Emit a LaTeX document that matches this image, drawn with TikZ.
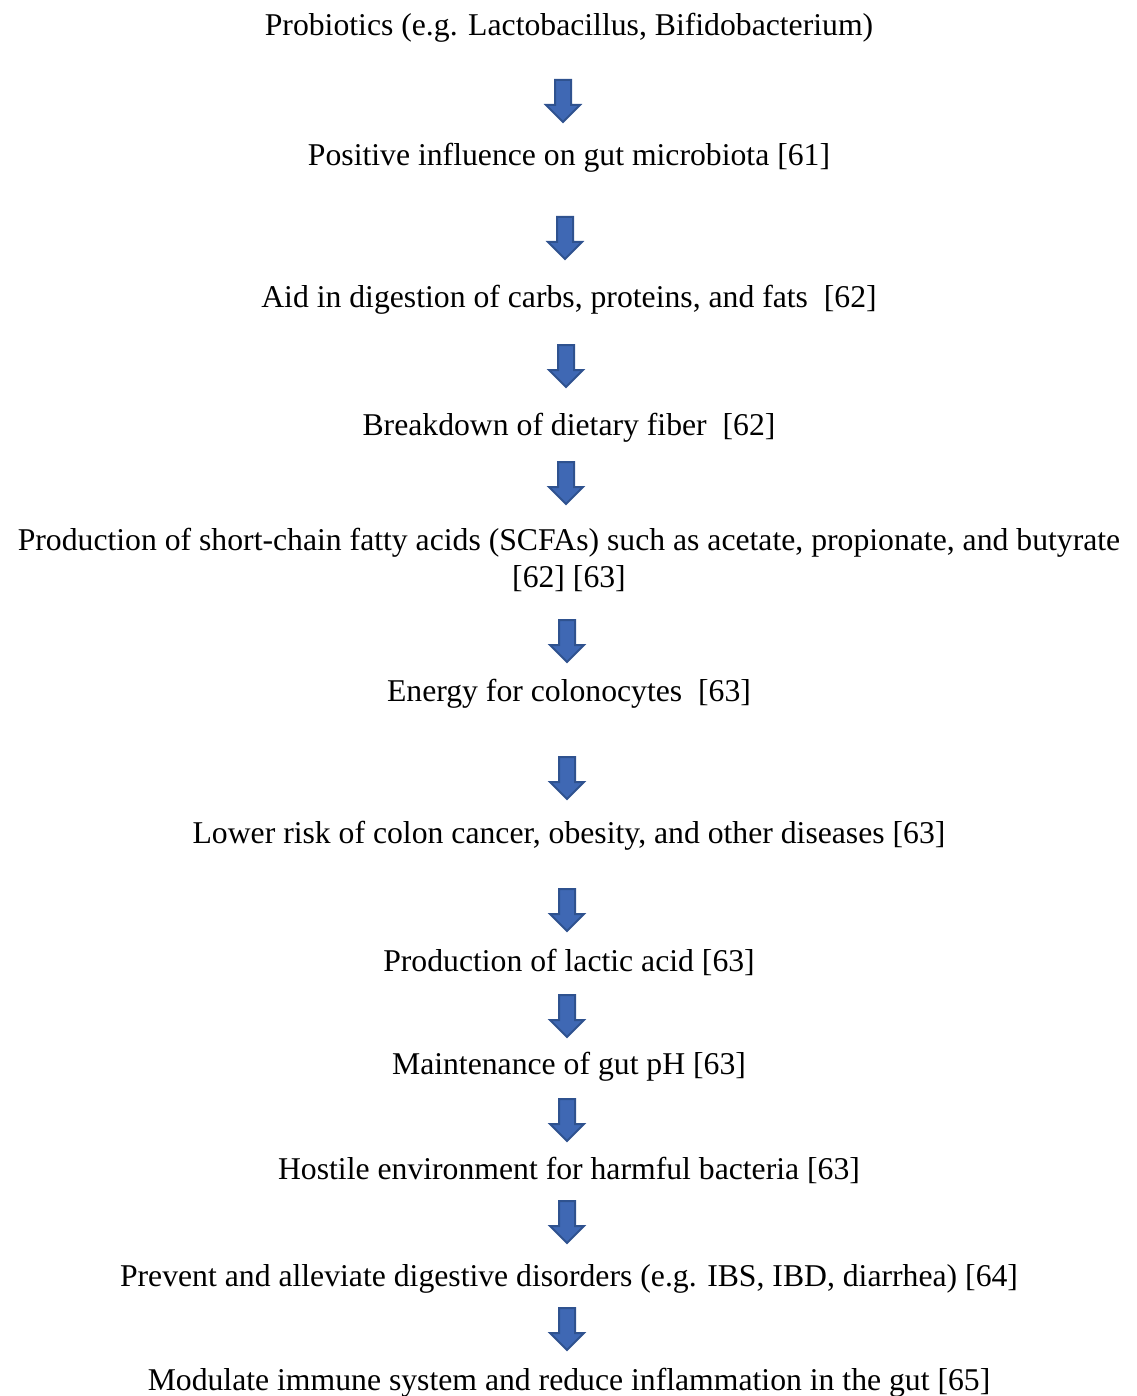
\documentclass[tikz,border=0pt]{standalone}
\usepackage{fontspec}
\setmainfont{Liberation Serif}
\usetikzlibrary{shapes.arrows}
\definecolor{arrowline}{HTML}{2F528F}
\definecolor{arrowfill}{HTML}{3F68B4}
\definecolor{arrowshine}{HTML}{5B8CD9}

\tikzset{
	steptext/.style={anchor=base, inner sep=0pt, font=\fontsize{31.7}{36.8}\selectfont},
	downarrow/.style={single arrow, shape border rotate=270, inner sep=7pt,
		minimum height=42pt, minimum width=32pt, single arrow head extend=9pt,
		draw=arrowline, line width=2pt,
		left color=arrowfill, middle color=arrowshine, right color=arrowfill}
}

\begin{document}
\begin{tikzpicture}[x=1pt, y=1pt]
			%%%%% START %%%%%
			
			\useasboundingbox (0, 0) rectangle (1136, -1396);
			
			\node[steptext] (probio) at (569, -36) {Probiotics (e.g. Lactobacillus, Bifidobacterium)};
			\node[downarrow] (a1) at (563, -97) {};
			
			\node[steptext] (gutmicro) at (569, -166) {Positive influence on gut microbiota [61]};
			\node[downarrow] (a2) at (565, -234) {};
			
			\node[steptext] (digest) at (569, -308) {Aid in digestion of carbs, proteins, and fats~~[62]};
			\node[downarrow] (a3) at (566, -362) {};
			
			\node[steptext] (fiber) at (569, -435) {Breakdown of dietary fiber~~[62]};
			\node[downarrow] (a4) at (566, -479) {};
			
			% two lines: base is the last one
			\node[steptext, align=center] (scfa) at (569, -587) {Production of short-chain fatty acids (SCFAs) such as acetate, propionate, and butyrate\\{}[62] [63]};
			\node[downarrow] (a5) at (567, -637) {};
			
			\node[steptext] (energy) at (569, -701) {Energy for colonocytes~~[63]};
			\node[downarrow] (a6) at (567, -774) {};
			
			\node[steptext] (risk) at (569, -843) {Lower risk of colon cancer, obesity, and other diseases [63]};
			\node[downarrow] (a7) at (567, -906) {};
			
			\node[steptext] (lactic) at (569, -971) {Production of lactic acid [63]};
			\node[downarrow] (a8) at (567, -1012) {};
			
			\node[steptext] (ph) at (569, -1074) {Maintenance of gut pH [63]};
			\node[downarrow] (a9) at (567, -1116) {};
			
			\node[steptext] (hostile) at (569, -1179) {Hostile environment for harmful bacteria [63]};
			\node[downarrow] (a10) at (567, -1218) {};
			
			\node[steptext] (disorders) at (569, -1286) {Prevent and alleviate digestive disorders (e.g. IBS, IBD, diarrhea) [64]};
			\node[downarrow] (a11) at (567, -1325) {};
			
			\node[steptext] (immune) at (569, -1390) {Modulate immune system and reduce inflammation in the gut [65]};
			
			%%%%% END %%%%%
\end{tikzpicture}
\end{document}
